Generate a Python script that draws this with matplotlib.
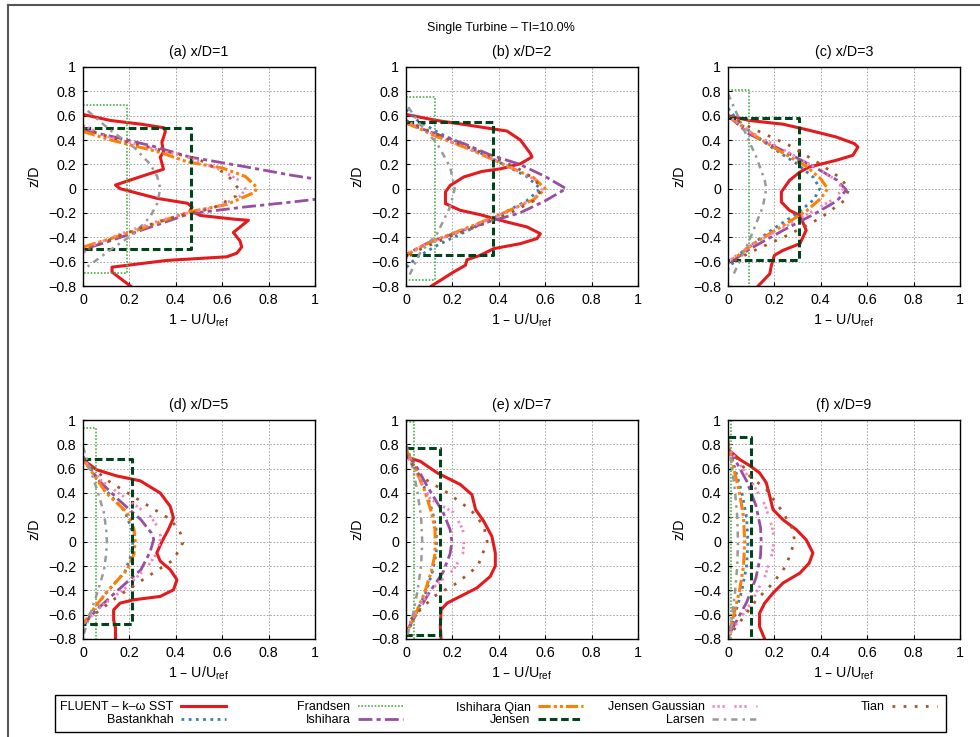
import matplotlib
matplotlib.use("Agg")
import matplotlib.pyplot as plt
from matplotlib.lines import Line2D
from matplotlib.patches import Rectangle

plt.rcParams['font.family'] = ['Liberation Sans', 'DejaVu Sans']

# ---------------- data : deficit (1 - U/Uref) and z/D per panel ----------------
panel_titles = ["(a) x/D=1", "(b) x/D=2", "(c) x/D=3", "(d) x/D=5", "(e) x/D=7", "(f) x/D=9"]

fluent = [
    ([0.0, 0.12, 0.25, 0.35, 0.355, 0.34, 0.347, 0.333, 0.347, 0.25, 0.14, 0.16, 0.32, 0.45, 0.47, 0.462, 0.505, 0.648, 0.713, 0.648, 0.677, 0.684, 0.663, 0.62, 0.36, 0.19, 0.125, 0.125, 0.204],
     [0.61, 0.56, 0.53, 0.50, 0.47, 0.38, 0.30, 0.26, 0.16, 0.10, 0.03, 0.0, -0.08, -0.12, -0.15, -0.18, -0.22, -0.25, -0.26, -0.36, -0.43, -0.48, -0.53, -0.56, -0.59, -0.63, -0.645, -0.685, -0.8]),
    ([0.0, 0.134, 0.277, 0.378, 0.435, 0.493, 0.536, 0.543, 0.493, 0.41, 0.328, 0.249, 0.191, 0.17, 0.17, 0.234, 0.32, 0.435, 0.522, 0.579, 0.565, 0.493, 0.378, 0.32, 0.263, 0.256, 0.205, 0.11],
     [0.61, 0.56, 0.52, 0.49, 0.474, 0.40, 0.29, 0.26, 0.205, 0.164, 0.142, 0.096, 0.027, -0.027, -0.123, -0.178, -0.214, -0.274, -0.315, -0.37, -0.41, -0.452, -0.493, -0.548, -0.584, -0.63, -0.685, -0.8]),
    ([0.0, 0.093, 0.237, 0.35, 0.466, 0.545, 0.56, 0.538, 0.466, 0.35, 0.31, 0.265, 0.23, 0.23, 0.265, 0.31, 0.337, 0.31, 0.237, 0.2, 0.187, 0.18, 0.13],
     [0.60, 0.56, 0.53, 0.48, 0.425, 0.37, 0.342, 0.274, 0.233, 0.178, 0.137, 0.068, -0.027, -0.11, -0.178, -0.22, -0.342, -0.452, -0.507, -0.548, -0.63, -0.70, -0.8]),
    ([0.01, 0.06, 0.146, 0.247, 0.333, 0.376, 0.39, 0.368, 0.34, 0.318, 0.333, 0.376, 0.405, 0.39, 0.333, 0.218, 0.16, 0.132, 0.132, 0.14, 0.14],
     [0.66, 0.59, 0.54, 0.50, 0.40, 0.29, 0.195, 0.10, 0.0, -0.093, -0.16, -0.23, -0.313, -0.396, -0.45, -0.478, -0.505, -0.56, -0.643, -0.71, -0.8]),
    ([0.01, 0.062, 0.134, 0.234, 0.284, 0.30, 0.335, 0.37, 0.385, 0.385, 0.363, 0.306, 0.234, 0.177, 0.151, 0.148, 0.151],
     [0.69, 0.66, 0.566, 0.47, 0.387, 0.264, 0.168, 0.044, -0.093, -0.20, -0.286, -0.38, -0.45, -0.505, -0.56, -0.70, -0.8]),
    ([0.014, 0.05, 0.093, 0.136, 0.165, 0.18, 0.194, 0.237, 0.294, 0.337, 0.366, 0.35, 0.31, 0.237, 0.194, 0.158, 0.136, 0.136, 0.158],
     [0.736, 0.676, 0.626, 0.566, 0.484, 0.374, 0.264, 0.18, 0.10, 0.016, -0.093, -0.176, -0.258, -0.34, -0.423, -0.505, -0.588, -0.698, -0.8]),
]

bastankhah = [
    None,
    ([0, 0.05, 0.14, 0.26, 0.4, 0.52, 0.58, 0.52, 0.4, 0.26, 0.14, 0.05, 0],
     [0.65, 0.56, 0.46, 0.35, 0.22, 0.1, 0, -0.1, -0.22, -0.35, -0.46, -0.56, -0.65]),
    ([0, 0.06, 0.18, 0.3, 0.37, 0.395, 0.37, 0.3, 0.18, 0.06, 0],
     [0.66, 0.52, 0.35, 0.2, 0.09, 0, -0.09, -0.2, -0.35, -0.52, -0.66]),
    ([0, 0.05, 0.1, 0.18, 0.21, 0.215, 0.21, 0.18, 0.1, 0.05, 0],
     [0.7, 0.55, 0.42, 0.25, 0.1, 0, -0.1, -0.25, -0.42, -0.55, -0.7]),
    ([0, 0.04, 0.085, 0.115, 0.13, 0.132, 0.13, 0.115, 0.085, 0.04, 0],
     [0.78, 0.6, 0.42, 0.24, 0.1, 0, -0.1, -0.24, -0.42, -0.6, -0.78]),
    ([0, 0.03, 0.06, 0.08, 0.086, 0.08, 0.06, 0.03, 0],
     [0.8, 0.6, 0.4, 0.2, 0, -0.2, -0.4, -0.6, -0.8]),
]

# frandsen / jensen are top-hat: width and half height
frandsen_w = [0.19, 0.126, 0.09, 0.057, 0.036, 0.014]
frandsen_h = [0.69, 0.753, 0.814, 0.937, 0.98, 1.0]
jensen_w = [0.465, 0.375, 0.306, 0.211, 0.145, 0.098]
jensen_h = [0.5, 0.545, 0.584, 0.678, 0.77, 0.863]

ishihara = [
    ([0, 0.1, 0.3, 0.46, 0.7, 0.9, 1.0, 1.1, 1.15, 1.1, 1.0, 0.9, 0.7, 0.46, 0.3, 0.1, 0],
     [0.48, 0.44, 0.35, 0.26, 0.18, 0.11, 0.08, 0.04, 0.0, -0.04, -0.088, -0.11, -0.15, -0.205, -0.31, -0.44, -0.5]),
    ([0, 0.1, 0.25, 0.36, 0.49, 0.6, 0.69, 0.6, 0.49, 0.36, 0.25, 0.1, 0],
     [0.54, 0.47, 0.37, 0.28, 0.2, 0.1, 0.0, -0.1, -0.2, -0.27, -0.34, -0.44, -0.54]),
    ([0, 0.09, 0.24, 0.38, 0.47, 0.51, 0.47, 0.38, 0.24, 0.09, 0],
     [0.6, 0.45, 0.31, 0.17, 0.07, -0.01, -0.1, -0.2, -0.34, -0.5, -0.62]),
    ([0, 0.07, 0.15, 0.25, 0.295, 0.305, 0.29, 0.25, 0.15, 0.07, 0],
     [0.68, 0.5, 0.35, 0.18, 0.07, 0.02, -0.08, -0.23, -0.4, -0.54, -0.68]),
    ([0, 0.05, 0.09, 0.16, 0.19, 0.198, 0.19, 0.16, 0.1, 0.05, 0],
     [0.74, 0.6, 0.46, 0.24, 0.1, 0.0, -0.1, -0.25, -0.42, -0.58, -0.74]),
    ([0, 0.04, 0.08, 0.12, 0.14, 0.143, 0.14, 0.12, 0.08, 0.04, 0],
     [0.78, 0.64, 0.5, 0.3, 0.12, 0.0, -0.12, -0.3, -0.5, -0.64, -0.78]),
]

ishihara_qian = [
    ([0, 0.12, 0.33, 0.45, 0.6, 0.7, 0.75, 0.74, 0.62, 0.46, 0.35, 0.25, 0.12, 0],
     [0.47, 0.4, 0.3, 0.22, 0.17, 0.1, 0.01, -0.03, -0.13, -0.19, -0.26, -0.33, -0.41, -0.48]),
    ([0, 0.05, 0.13, 0.28, 0.42, 0.55, 0.6, 0.55, 0.42, 0.28, 0.13, 0.05, 0],
     [0.54, 0.5, 0.43, 0.32, 0.2, 0.09, 0.0, -0.09, -0.2, -0.31, -0.42, -0.49, -0.55]),
    ([0, 0.12, 0.24, 0.34, 0.4, 0.43, 0.4, 0.34, 0.24, 0.12, 0],
     [0.6, 0.43, 0.29, 0.18, 0.08, 0.0, -0.08, -0.18, -0.3, -0.44, -0.61]),
    ([0, 0.05, 0.1, 0.19, 0.22, 0.225, 0.22, 0.19, 0.1, 0.05, 0],
     [0.68, 0.54, 0.4, 0.24, 0.1, 0, -0.1, -0.23, -0.42, -0.54, -0.68]),
    ([0, 0.04, 0.08, 0.11, 0.125, 0.126, 0.125, 0.11, 0.08, 0.04, 0],
     [0.76, 0.6, 0.42, 0.24, 0.1, 0, -0.1, -0.24, -0.42, -0.6, -0.76]),
    ([0, 0.025, 0.05, 0.067, 0.072, 0.067, 0.05, 0.025, 0],
     [0.8, 0.6, 0.4, 0.2, 0, -0.2, -0.4, -0.6, -0.8]),
]

jensen_gaussian = [
    ([0, 0.1, 0.3, 0.45, 0.6, 0.68, 0.7, 0.68, 0.58, 0.45, 0.3, 0.15, 0.05, 0],
     [0.52, 0.43, 0.33, 0.26, 0.15, 0.06, 0.0, -0.06, -0.15, -0.2, -0.28, -0.38, -0.46, -0.53]),
    ([0, 0.08, 0.2, 0.33, 0.46, 0.56, 0.59, 0.55, 0.44, 0.31, 0.18, 0.06, 0],
     [0.56, 0.48, 0.38, 0.28, 0.17, 0.07, 0, -0.08, -0.19, -0.29, -0.39, -0.48, -0.57]),
    ([0, 0.1, 0.24, 0.37, 0.46, 0.495, 0.46, 0.37, 0.24, 0.1, 0],
     [0.6, 0.46, 0.32, 0.18, 0.08, 0, -0.08, -0.18, -0.32, -0.46, -0.6]),
    ([0, 0.08, 0.19, 0.29, 0.33, 0.335, 0.32, 0.28, 0.19, 0.08, 0],
     [0.68, 0.5, 0.35, 0.21, 0.1, 0.03, -0.09, -0.2, -0.37, -0.53, -0.68]),
    ([0, 0.05, 0.105, 0.205, 0.245, 0.25, 0.245, 0.205, 0.105, 0.05, 0],
     [0.72, 0.55, 0.35, 0.24, 0.1, 0.0, -0.1, -0.23, -0.4, -0.56, -0.72]),
    ([0, 0.05, 0.1, 0.16, 0.19, 0.2, 0.19, 0.16, 0.1, 0.05, 0],
     [0.78, 0.64, 0.5, 0.3, 0.12, 0.02, -0.1, -0.28, -0.5, -0.64, -0.78]),
]

larsen = [
    ([0.02, 0.118, 0.22, 0.29, 0.32, 0.333, 0.32, 0.29, 0.22, 0.12, 0.02],
     [0.64, 0.48, 0.34, 0.2, 0.1, 0.0, -0.12, -0.23, -0.37, -0.5, -0.64]),
    ([0.01, 0.06, 0.134, 0.19, 0.21, 0.19, 0.134, 0.06, 0.01],
     [0.67, 0.53, 0.37, 0.18, 0.0, -0.15, -0.37, -0.53, -0.73]),
    ([0.0, 0.065, 0.122, 0.158, 0.165, 0.15, 0.093, 0.02],
     [0.78, 0.5, 0.26, 0.07, 0.0, -0.15, -0.42, -0.72]),
    ([0, 0.03, 0.06, 0.09, 0.1, 0.103, 0.1, 0.09, 0.06, 0.03, 0],
     [0.78, 0.6, 0.43, 0.24, 0.1, 0, -0.1, -0.24, -0.43, -0.6, -0.78]),
    ([0, 0.03, 0.05, 0.065, 0.07, 0.065, 0.05, 0.03, 0],
     [0.8, 0.6, 0.4, 0.2, 0.0, -0.2, -0.4, -0.6, -0.8]),
    ([0, 0.015, 0.03, 0.04, 0.043, 0.04, 0.03, 0.015, 0],
     [0.85, 0.64, 0.42, 0.2, 0, -0.2, -0.42, -0.64, -0.85]),
]

tian = [
    ([0, 0.12, 0.33, 0.5, 0.62, 0.67, 0.66, 0.56, 0.42, 0.28, 0.14, 0.04, 0],
     [0.5, 0.42, 0.32, 0.24, 0.12, 0.0, -0.06, -0.16, -0.22, -0.3, -0.4, -0.48, -0.52]),
    ([0, 0.08, 0.2, 0.35, 0.48, 0.56, 0.58, 0.55, 0.45, 0.32, 0.18, 0.06, 0],
     [0.56, 0.49, 0.39, 0.28, 0.17, 0.07, -0.02, -0.1, -0.2, -0.3, -0.4, -0.5, -0.57]),
    ([0, 0.1, 0.26, 0.4, 0.49, 0.52, 0.5, 0.4, 0.26, 0.1, 0],
     [0.6, 0.5, 0.36, 0.2, 0.08, -0.01, -0.1, -0.24, -0.38, -0.52, -0.62]),
    ([0, 0.1, 0.26, 0.38, 0.42, 0.43, 0.39, 0.26, 0.15, 0.02, 0],
     [0.68, 0.51, 0.32, 0.18, 0.07, -0.01, -0.15, -0.31, -0.45, -0.64, -0.66]),
    ([0, 0.06, 0.18, 0.28, 0.335, 0.35, 0.33, 0.31, 0.22, 0.12, 0.02, 0],
     [0.72, 0.54, 0.4, 0.26, 0.13, 0.0, -0.1, -0.2, -0.34, -0.45, -0.64, -0.72]),
    ([0, 0.05, 0.093, 0.165, 0.237, 0.28, 0.287, 0.25, 0.194, 0.122, 0.036, 0],
     [0.76, 0.66, 0.54, 0.43, 0.24, 0.1, 0.0, -0.2, -0.34, -0.48, -0.7, -0.78]),
]

# ---------------- styles ----------------
red = "#e41a1c"
blue = "#377eb8"
green = "#4daf4a"
purple = "#984ea3"
orange = "#ff7f00"
darkgreen = "#00441b"
pink = "#f781bf"
gray = "#999999"
brown = "#a65628"

fig = plt.figure(figsize=(9.8, 7.37), dpi=100)

# outer frame (partially visible)
fig.add_artist(Line2D([8/980, 8/980], [0, 1 - 5/737], transform=fig.transFigure, color="#555555", lw=1.5))
fig.add_artist(Line2D([8/980, 1], [1 - 5/737, 1 - 5/737], transform=fig.transFigure, color="#555555", lw=1.5))

fig.text(0.511, 1 - 28/737, "Single Turbine \u2013 TI=10.0%", ha="center", va="center", fontsize=9)

lefts = [83/980, 406/980, 728/980]
bottoms = [1 - 286/737, 1 - 639/737]
w = 232/980
h = 219/737

fs = 10.3

axes = []
for i in range(6):
    ax = fig.add_axes([lefts[i % 3], bottoms[i // 3], w, h])
    axes.append(ax)

    ax.plot(fluent[i][0], fluent[i][1], color=red, lw=2.2, label="FLUENT \u2013 k\u2013\u03c9 SST")
    if bastankhah[i] is not None:
        ax.plot(bastankhah[i][0], bastankhah[i][1], color=blue, lw=2, ls=(0, (1, 1.6)), label="Bastankhah")
    else:
        ax.plot([], [], color=blue, lw=2, ls=(0, (1, 1.6)), label="Bastankhah")
    fw, fh = frandsen_w[i], frandsen_h[i]
    ax.plot([0, fw, fw, 0], [fh, fh, -fh, -fh], color=green, lw=1.2, ls=(0, (1, 1)), label="Frandsen")
    ax.plot(ishihara[i][0], ishihara[i][1], color=purple, lw=2, ls=(0, (5, 1.5, 1.5, 1.5)), label="Ishihara")
    ax.plot(ishihara_qian[i][0], ishihara_qian[i][1], color=orange, lw=2.2, ls=(0, (4, 1, 1, 1, 1, 1)), label="Ishihara Qian")
    jw, jh = jensen_w[i], jensen_h[i]
    ax.plot([0, jw, jw, 0], [jh, jh, -jh, -jh], color=darkgreen, lw=2.2, ls=(0, (2.5, 1.2)), label="Jensen")
    ax.plot(jensen_gaussian[i][0], jensen_gaussian[i][1], color=pink, lw=2, ls=(0, (0.8, 1, 0.8, 1, 0.8, 3.5)), label="Jensen Gaussian")
    ax.plot(larsen[i][0], larsen[i][1], color=gray, lw=1.8, ls=(0, (2.5, 2, 1, 2)), label="Larsen")
    ax.plot(tian[i][0], tian[i][1], color=brown, lw=2, ls=(0, (1, 3)), label="Tian")

    ax.set_xlim(0, 1)
    ax.set_ylim(-0.8, 1)
    ax.set_xticks([0, 0.2, 0.4, 0.6, 0.8, 1])
    ax.set_xticklabels(["0", "0.2", "0.4", "0.6", "0.8", "1"])
    ax.set_yticks([-0.8, -0.6, -0.4, -0.2, 0, 0.2, 0.4, 0.6, 0.8, 1])
    ax.set_yticklabels(["\u22120.8", "\u22120.6", "\u22120.4", "\u22120.2", "0", "0.2", "0.4", "0.6", "0.8", "1"])
    ax.grid(True, color="#9a9a9a", lw=0.6, ls=(0, (2, 2)))
    ax.tick_params(direction="in", length=3, labelsize=fs, pad=5)
    for s in ax.spines.values():
        s.set_linewidth(1.0)
    ax.set_title(panel_titles[i], fontsize=fs, pad=8)
    ax.set_xlabel("1 \u2013 U/U$_\\mathregular{ref}$", fontsize=fs, labelpad=3)
    ax.set_ylabel("z/D", fontsize=fs, labelpad=5)

# legend: gnuplot-like equal-width columns, text right aligned before the sample
handles, labels = axes[0].get_legend_handles_labels()
fig.add_artist(Rectangle((55/980, 1 - 732/737), (946 - 55)/980, 37/737, transform=fig.transFigure,
                         fill=False, edgecolor="black", lw=1.0))
col_right = [226, 403, 583, 757, 937]
for j, xr in enumerate(col_right):
    fig.legend(handles[2*j:2*j+2], labels[2*j:2*j+2], loc="upper right",
               bbox_to_anchor=(xr/980, 1 - 701.5/737), markerfirst=False, fontsize=9,
               handlelength=3.6, handletextpad=0.6, labelspacing=0.05,
               borderpad=0, borderaxespad=0, frameon=False)

plt.savefig("out.png", dpi=100)
